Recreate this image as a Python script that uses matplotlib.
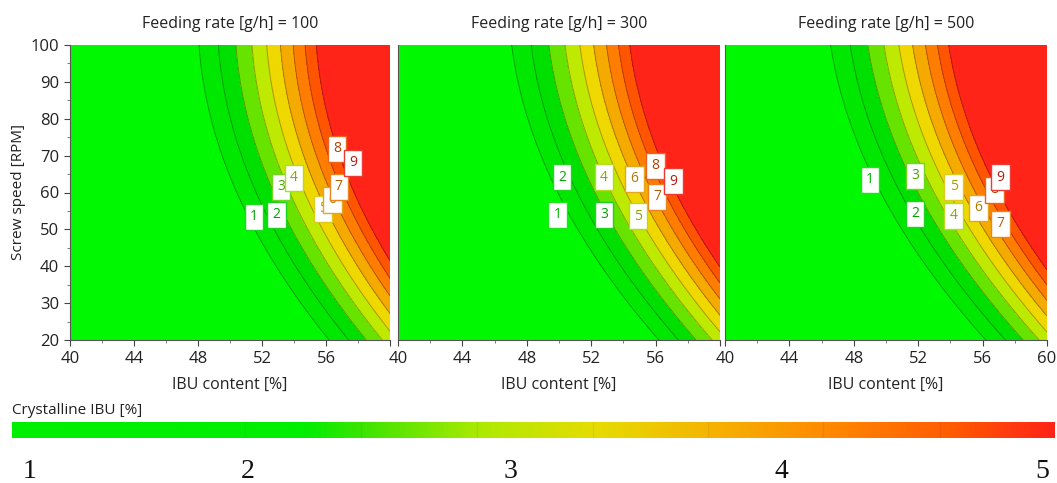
import numpy as np
import matplotlib
matplotlib.use('Agg')
import matplotlib.pyplot as plt
from matplotlib.colors import ListedColormap, BoundaryNorm, LinearSegmentedColormap, to_rgb
from matplotlib.ticker import MultipleLocator

plt.rcParams['font.family'] = ['Open Sans', 'DejaVu Sans']

# ---------------- data ----------------
feed_rates = [100, 300, 500]
ibu_lim = (40, 60)
speed_lim = (20, 100)
x_ticks = [40, 44, 48, 52, 56, 60]
x_tick_labels_inner = ['40', '44', '48', '52', '56', '']
x_tick_labels_last = ['40', '44', '48', '52', '56', '60']
y_ticks = [20, 30, 40, 50, 60, 70, 80, 90, 100]

# contour levels of crystalline IBU [%] and band colours
levels = [1.4, 1.8, 2.2, 2.6, 3.0, 3.4, 3.8, 4.2, 4.6]
band_colors = ['#00f800', '#00e800', '#00e000', '#66e400', '#bdea00',
               '#eed800', '#f5aa00', '#ff7d00', '#ff5500', '#ff2318']

# fitted response-surface model coefficients
base_level = 1.4
x_ref = 48.06
k_speed_lin = 0.0164
k_speed_quad = 0.001067
feed_shift = [0.0, 1.0, 1.5]
amp = 3.64
rate = 0.086

# experimental runs (label positions)
run_labels = ['1', '2', '3', '4', '5', '6', '7', '8', '9']
run_ibu_100 = [51.5, 52.9, 53.2, 54.0, 55.8, 56.4, 56.8, 56.7, 57.7]
run_speed_100 = [53.4, 53.9, 61.5, 64.0, 55.6, 58.0, 61.5, 71.8, 68.0]
run_ibu_300 = [49.9, 50.2, 52.8, 52.8, 54.9, 54.7, 56.1, 56.0, 57.1]
run_speed_300 = [53.9, 64.2, 53.9, 64.2, 53.6, 63.7, 58.8, 67.2, 63.1]
run_ibu_500 = [49.0, 51.8, 51.8, 54.2, 54.2, 55.75, 57.1, 56.75, 57.1]
run_speed_500 = [63.4, 54.2, 64.5, 53.7, 61.5, 55.8, 51.5, 60.7, 64.2]
runs_ibu = [run_ibu_100, run_ibu_300, run_ibu_500]
runs_speed = [run_speed_100, run_speed_300, run_speed_500]

# colour bar
cbar_label = 'Crystalline IBU [%]'
cbar_stops = [0.0, 0.28, 0.34, 0.45, 0.56, 0.67, 0.78, 0.90, 1.0]
cbar_colors = ['#00ee00', '#00ee00', '#40e400', '#aeea00', '#e6dc00',
               '#f5b400', '#ff8a00', '#ff5c00', '#ff2418']
cbar_band_edges = [0.2233, 0.3345, 0.4458, 0.557, 0.667, 0.778, 0.890]
cbar_tick_pos = [0.017, 0.226, 0.478, 0.738, 0.988]
cbar_tick_labels = ['1', '2', '3', '4', '5']


def model(x, s, i):
    d = speed_lim[1] - s
    x0 = x_ref + k_speed_lin * d + k_speed_quad * d ** 2 \
        - feed_shift[i] * (s - speed_lim[0]) / (speed_lim[1] - speed_lim[0])
    t = x - x0
    return base_level + amp * (np.exp(rate * t) - 1.0)


def band_index(v):
    return int(np.searchsorted(levels, v))


# ---------------- figure ----------------
W, H = 1057, 483
fig = plt.figure(figsize=(W / 100, H / 100), dpi=100)

panel_px = [(70, 390), (398, 720), (725, 1047)]
top_px, bot_px = 45, 340

cmap = ListedColormap(band_colors)
bounds = [-10] + levels + [20]
norm = BoundaryNorm(bounds, cmap.N)

xg = np.linspace(ibu_lim[0], ibu_lim[1], 400)
yg = np.linspace(speed_lim[0], speed_lim[1], 400)
XX, YY = np.meshgrid(xg, yg)

for i, (l, r) in enumerate(panel_px):
    ax = fig.add_axes([l / W, 1 - bot_px / H, (r - l) / W, (bot_px - top_px) / H])
    Z = model(XX, YY, i)
    ax.contourf(XX, YY, Z, levels=bounds, cmap=cmap, norm=norm)
    ax.contour(XX, YY, Z, levels=levels, colors='k', alpha=0.3, linewidths=0.7)
    ax.set_xlim(*ibu_lim)
    ax.set_ylim(*speed_lim)
    ax.set_xticks(x_ticks)
    ax.set_xticklabels(x_tick_labels_last if i == 2 else x_tick_labels_inner)
    ax.xaxis.set_minor_locator(MultipleLocator(2))
    ax.set_yticks(y_ticks)
    ax.yaxis.set_minor_locator(MultipleLocator(5))
    ax.tick_params(axis='both', which='major', length=4, width=0.8,
                   color='#444444', labelsize=12, labelcolor='#222222', pad=4)
    ax.tick_params(axis='both', which='minor', length=2, width=0.6, color='#666666')
    for sp in ['top', 'right']:
        ax.spines[sp].set_visible(False)
    for sp in ['bottom', 'left']:
        ax.spines[sp].set_color('#555555')
        ax.spines[sp].set_linewidth(0.8)
    if i > 0:
        ax.tick_params(axis='y', which='both', left=False, labelleft=False)
    else:
        ax.set_ylabel('Screw speed [RPM]', fontsize=11, color='#222222', labelpad=3)
    ax.set_xlabel('IBU content [%]', fontsize=11.5, color='#222222', labelpad=7)
    ax.set_title(f'Feeding rate [g/h] = {feed_rates[i]}', fontsize=11.5,
                 color='#222222', pad=12)

    for lab, xv, sv in zip(run_labels, runs_ibu[i], runs_speed[i]):
        c = np.array(to_rgb(band_colors[band_index(model(xv, sv, i))]))
        tc = c * 0.72
        ec = c * 0.8 + 0.2 * np.array([0.6, 0.6, 0.6])
        ax.text(xv, sv, lab, ha='center', va='center', fontsize=10, color=tc,
                zorder=5,
                bbox=dict(boxstyle='square,pad=0.38', fc='white', ec=ec, lw=1.0))

# colour bar
cax = fig.add_axes([12 / W, 1 - 438 / H, 1043 / W, 16 / H])
grad_cmap = LinearSegmentedColormap.from_list('cb', list(zip(cbar_stops, cbar_colors)))
grad = np.linspace(0, 1, 512)[None, :]
cax.imshow(grad, aspect='auto', cmap=grad_cmap, extent=(0, 1, 0, 1))
for e in cbar_band_edges:
    cax.axvline(e, color='k', alpha=0.06, lw=1)
cax.set_xlim(0, 1)
cax.set_ylim(0, 1)
cax.set_yticks([])
cax.set_xticks(cbar_tick_pos)
cax.set_xticklabels(cbar_tick_labels, family=['Liberation Serif', 'DejaVu Serif'],
                    fontsize=20, color='#111111')
cax.tick_params(axis='x', length=0, pad=15)
for sp in cax.spines.values():
    sp.set_visible(False)
fig.text(12 / W, 1 - 410 / H, cbar_label, ha='left', va='center', fontsize=11,
         color='#222222')

fig.savefig('out.png', dpi=100)
